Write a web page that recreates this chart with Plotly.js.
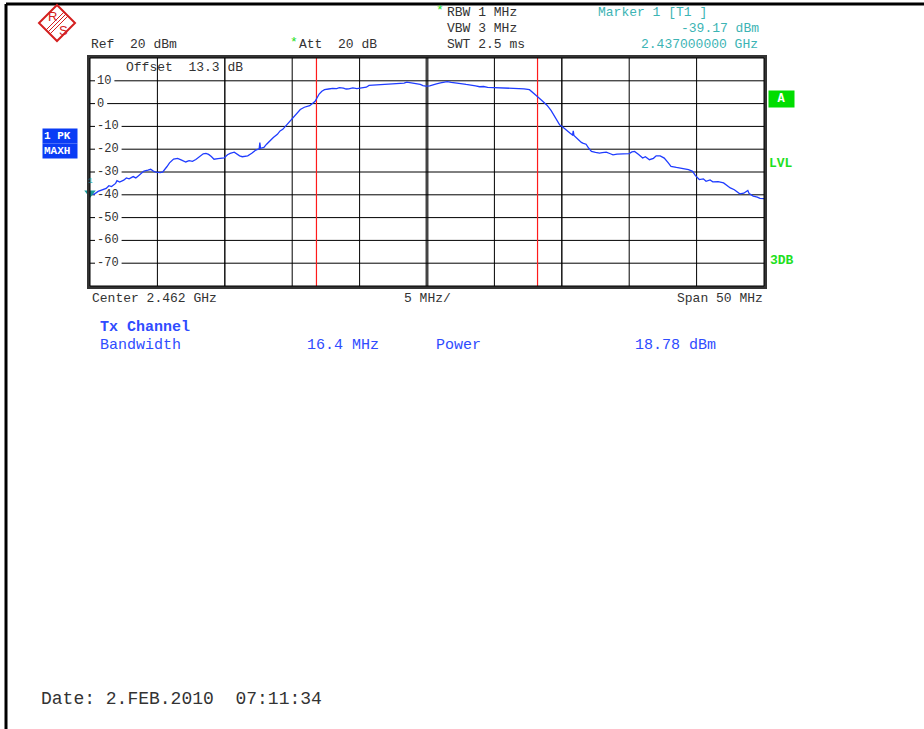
<!DOCTYPE html>
<html>
<head>
<meta charset="utf-8">
<script src="https://cdn.plot.ly/plotly-3.0.1.min.js"></script>
<style>html,body{margin:0;padding:0;background:#fff;}#chart{width:924px;height:729px;}</style>
</head>
<body>
<div id="chart"></div>
<script>
// ---- Data ----
const centerMHz = 2462;
const spanMHz = 50;
const refLevel = 20;
const dbPerDiv = 10;
const bandwidthMHz = 16.4;
const channelPower = "18.78 dBm";
const markerFreqMHz = [2437.0];
const markerLevel = [-39.17];
const yTickValues = [10, 0, -10, -20, -30, -40, -50, -60, -70];

const freqMHz = [
 2437.0,2437.3,2437.6,2437.9,2438.2,2438.4,2438.6,2438.9,2439.0,2439.2,
 2439.5,2439.7,2439.9,2440.2,2440.4,2440.6,2440.8,2441.0,2441.3,2441.5,
 2441.7,2441.9,2442.2,2442.4,2442.7,2442.9,2443.2,2443.5,2443.8,2444.1,
 2444.35,2444.6,2444.85,2445.1,2445.4,2445.6,2445.8,2446.0,2446.2,2446.5,
 2446.7,2446.95,2447.2,2447.4,2447.7,2447.9,2448.1,2448.3,2448.5,2448.7,
 2449.0,2449.3,2449.55,2449.6,2449.65,2449.9,2450.1,2450.3,2450.6,2450.9,
 2451.1,2451.3,2451.6,2452.0,2452.3,2452.6,2452.9,2453.3,2453.7,2453.85,
 2454.0,2454.2,2454.4,2454.7,2455.0,2455.3,2455.5,2455.8,2456.0,2456.2,
 2456.5,2456.8,2457.1,2457.5,2457.7,2458.0,2458.3,2458.7,2459.0,2459.3,
 2459.7,2460.0,2460.3,2460.5,2460.8,2461.2,2461.5,2461.7,2461.9,2462.2,
 2462.4,2462.7,2463.0,2463.2,2463.5,2463.8,2464.2,2464.5,2464.9,2465.2,
 2465.6,2465.9,2466.2,2466.5,2466.9,2467.2,2467.5,2467.9,2468.2,2468.5,
 2468.9,2469.2,2469.6,2469.85,2470.1,2470.5,2470.9,2471.2,2471.5,2471.85,
 2472.0,2472.3,2472.6,2472.8,2472.85,2472.9,2473.1,2473.45,2473.6,2473.8,
 2474.0,2474.2,2474.5,2474.8,2475.0,2475.3,2475.6,2475.8,2476.1,2476.4,
 2476.7,2477.0,2477.2,2477.4,2477.7,2478.0,2478.2,2478.5,2478.8,2479.0,
 2479.3,2479.6,2479.9,2480.1,2480.5,2481.0,2481.4,2481.7,2481.9,2482.2,
 2482.5,2482.7,2483.0,2483.2,2483.6,2484.0,2484.2,2484.5,2484.8,2485.0,
 2485.2,2485.5,2485.8,2485.9,2486.2,2486.5,2486.7,2487.0
];
const levelDbm = [
 -39.2,-39.8,-38.5,-37.8,-37.2,-36.0,-36.4,-35.0,-33.8,-34.4,
 -33.6,-32.6,-33.0,-32.0,-32.6,-31.6,-30.8,-29.6,-29.2,-28.8,
 -29.6,-30.1,-30.3,-30.0,-27.7,-26.0,-24.3,-24.0,-24.8,-25.6,
 -25.0,-25.3,-24.5,-23.3,-22.0,-21.8,-22.3,-23.2,-24.4,-24.1,
 -24.0,-23.8,-22.4,-21.8,-21.3,-22.2,-22.9,-23.3,-23.2,-22.9,
 -21.8,-20.4,-19.8,-17.1,-19.6,-19.2,-17.8,-16.5,-14.9,-13.5,
 -12.0,-11.3,-9.3,-6.4,-4.6,-2.6,-1.6,-0.9,1.0,2.5,
 4.2,5.4,6.1,6.4,6.7,6.6,7.0,6.8,6.4,6.5,
 6.9,6.6,7.0,7.2,8.0,8.1,8.0,8.4,8.5,8.6,
 8.8,8.8,9.0,9.4,9.1,8.8,8.4,7.9,7.7,7.8,
 8.0,8.6,9.1,9.4,9.6,9.3,9.1,8.8,8.4,8.2,
 7.8,7.4,7.5,7.1,7.0,7.1,6.8,6.8,6.6,6.8,
 6.5,6.5,6.1,5.0,3.6,1.5,-0.7,-3.0,-5.8,-9.4,
 -9.9,-11.6,-12.9,-13.8,-12.0,-14.0,-15.2,-17.0,-17.4,-17.8,
 -19.6,-21.0,-21.4,-21.7,-21.5,-21.3,-22.0,-22.5,-22.2,-22.2,
 -22.0,-21.9,-21.2,-21.0,-22.3,-23.9,-23.3,-24.6,-24.0,-22.9,
 -22.9,-23.9,-26.0,-27.5,-28.0,-28.6,-29.0,-29.7,-31.5,-33.3,
 -33.0,-34.1,-33.5,-34.3,-34.2,-34.8,-35.8,-37.0,-37.8,-38.6,
 -39.6,-39.3,-38.1,-39.5,-40.6,-41.0,-41.6,-41.7
];

// ---- Geometry helpers (pixel -> paper) ----
const W = 924, H = 729;
const M = {l: 90, r: 160, t: 58, b: 443};
const PW = W - M.l - M.r, PH = H - M.t - M.b;
const px = x => (x - M.l) / PW;
const py = y => (H - M.b - y) / PH;

const xLo = centerMHz - spanMHz / 2, xHi = centerMHz + spanMHz / 2;
const yTop = refLevel, yBot = refLevel - 10 * dbPerDiv;
const chLo = centerMHz - bandwidthMHz / 2, chHi = centerMHz + bandwidthMHz / 2;

const MONO = '"Liberation Mono", "Courier New", monospace';
const GREY = '#333333';
const TEAL = '#3cb4b4';
const BLUE = '#2f4cff';
const GREEN = '#1ee01e';

function txt(x, y, text, opts) {
  opts = opts || {};
  return Object.assign({
    xref: 'paper', yref: 'paper', x: px(x), y: py(y), text: text, showarrow: false,
    xanchor: 'left', yanchor: 'middle',
    font: {family: MONO, size: 13, color: GREY}, borderpad: 0
  }, opts);
}
const blueFont = {family: MONO, size: 15, color: BLUE};

const annotations = [
  txt(90, 45, 'Ref  20 dBm'),
  txt(289, 43, '*', {font: {family: MONO, size: 13, color: GREEN}}),
  txt(298, 45, 'Att  20 dB'),
  txt(435, 11, '*', {font: {family: MONO, size: 13, color: GREEN}}),
  txt(446, 12, 'RBW 1 MHz'),
  txt(446, 29, 'VBW 3 MHz'),
  txt(446, 45, 'SWT 2.5 ms'),
  txt(597, 12, 'Marker 1 [T1 ]', {font: {family: MONO, size: 13, color: TEAL}}),
  txt(760, 29, markerLevel[0].toFixed(2) + ' dBm', {xanchor: 'right', font: {family: MONO, size: 13, color: TEAL}}),
  txt(759, 45, (markerFreqMHz[0] / 1000).toFixed(9) + ' GHz', {xanchor: 'right', font: {family: MONO, size: 13, color: TEAL}}),
  txt(125, 67, 'Offset  13.3 dB'),
  txt(91, 298, 'Center ' + (centerMHz / 1000).toFixed(3) + ' GHz'),
  txt(427, 298, (spanMHz / 10) + ' MHz/', {xanchor: 'center'}),
  txt(764, 298, 'Span ' + spanMHz + ' MHz', {xanchor: 'right'}),
  txt(99, 327, '<b>Tx Channel</b>', {font: blueFont}),
  txt(99, 345, 'Bandwidth', {font: blueFont}),
  txt(306, 345, bandwidthMHz + ' MHz', {font: blueFont}),
  txt(435, 345, 'Power', {font: blueFont}),
  txt(717, 345, channelPower, {xanchor: 'right', font: blueFont}),
  txt(40, 699, 'Date: 2.FEB.2010  07:11:34', {font: {family: MONO, size: 18, color: GREY}}),
  // left blue boxes
  txt(42, 136, '<b>1 PK</b>', {bgcolor: '#0a3cf5', borderpad: 1, width: 32, align: 'left', font: {family: MONO, size: 11, color: '#ffffff'}}),
  txt(42, 151, '<b>MAXH</b>', {bgcolor: '#0a3cf5', borderpad: 1, width: 32, align: 'left', font: {family: MONO, size: 11, color: '#ffffff'}}),
  // right green labels
  txt(768, 99, '<b>A</b>', {bgcolor: '#00dd00', borderpad: 1, width: 23, align: 'center', font: {family: MONO, size: 12, color: '#ffffff'}}),
  txt(768, 163, '<b>LVL</b>', {font: {family: MONO, size: 13, color: GREEN}}),
  txt(769, 260, '<b>3DB</b>', {font: {family: MONO, size: 13, color: GREEN}}),
  // R&S letters
  txt(52, 16, 'R', {xanchor: 'center', font: {family: '"Liberation Sans", Arial', size: 13, color: '#d42020'}}),
  txt(63, 30, 'S', {xanchor: 'center', font: {family: '"Liberation Sans", Arial', size: 13, color: '#d42020'}}),
  // marker number
  txt(90, 180, '1', {xanchor: 'center', font: {family: MONO, size: 8, color: '#1a9a9a'}})
];

const shapes = [
  // page frame
  {type: 'line', xref: 'paper', yref: 'paper', x0: px(6), x1: px(924), y0: py(4), y1: py(4), line: {color: '#000', width: 3}},
  {type: 'line', xref: 'paper', yref: 'paper', x0: px(6), x1: px(6), y0: py(4), y1: py(729), line: {color: '#000', width: 3}},
  // plot frame (double line)
  {type: 'rect', xref: 'paper', yref: 'paper', x0: px(88.5), x1: px(765.5), y0: py(287.5), y1: py(56.5), line: {color: '#333', width: 3}},
  {type: 'rect', xref: 'paper', yref: 'paper', x0: 0, x1: 1, y0: 0, y1: 1, line: {color: '#000', width: 1}},
  // R&S logo diamond
  {type: 'path', xref: 'paper', yref: 'paper',
   path: 'M ' + px(57) + ' ' + py(5) + ' L ' + px(75) + ' ' + py(23) + ' L ' + px(57) + ' ' + py(41) + ' L ' + px(39) + ' ' + py(23) + ' Z',
   line: {color: '#d42020', width: 2}},
  {type: 'line', xref: 'paper', yref: 'paper', x0: px(64), y0: py(12), x1: px(46), y1: py(30), line: {color: '#d42020', width: 1}},
  {type: 'line', xref: 'paper', yref: 'paper', x0: px(66), y0: py(14), x1: px(48), y1: py(32), line: {color: '#d42020', width: 1}},
  {type: 'line', xref: 'paper', yref: 'paper', x0: px(68), y0: py(16), x1: px(50), y1: py(34), line: {color: '#d42020', width: 1}}
];

// vertical grid (one per division) drawn below the traces
for (let k = 1; k < 10; k++) {
  const f = xLo + k * spanMHz / 10;
  let col = '#000', wd = 1;
  if (k === 5) { col = '#444'; wd = 3; }
  else if (k === 2 || k === 7) { col = '#222'; wd = 1.6; }
  shapes.push({type: 'line', xref: 'x', yref: 'paper', x0: f, x1: f, y0: 0, y1: 1, layer: 'below', line: {color: col, width: wd}});
}
// horizontal grid with a gap for each level label
yTickValues.forEach(v => {
  const w = String(v).length * 7.2 + 4;
  shapes.push({type: 'line', xref: 'paper', yref: 'y', x0: 0, x1: px(95), y0: v, y1: v, layer: 'below', line: {color: '#000', width: 1}});
  shapes.push({type: 'line', xref: 'paper', yref: 'y', x0: px(96 + w), x1: 1, y0: v, y1: v, layer: 'below', line: {color: '#000', width: 1}});
  annotations.push({xref: 'paper', yref: 'y', x: px(96), y: v, text: String(v), showarrow: false,
    xanchor: 'left', yanchor: 'middle', borderpad: 0, font: {family: MONO, size: 12, color: GREY}});
});

const traces = [
  {x: [chLo, chLo], y: [yBot, yTop], mode: 'lines', line: {color: '#ff1a1a', width: 1.2}, hoverinfo: 'skip'},
  {x: [chHi, chHi], y: [yBot, yTop], mode: 'lines', line: {color: '#ff1a1a', width: 1.2}, hoverinfo: 'skip'},
  {x: freqMHz, y: levelDbm, mode: 'lines', line: {color: '#1f3cff', width: 1.3}},
  {x: markerFreqMHz, y: markerLevel, mode: 'markers', cliponaxis: false,
   marker: {symbol: 'triangle-down', size: 10, color: '#1a9a9a'}}
];

const layout = {
  width: W, height: H,
  margin: M,
  paper_bgcolor: '#ffffff', plot_bgcolor: '#ffffff',
  showlegend: false,
  xaxis: {range: [xLo, xHi], showgrid: false, zeroline: false, showticklabels: false, ticks: '', showline: false, fixedrange: true},
  yaxis: {range: [yBot, yTop], showgrid: false, zeroline: false, showticklabels: false, ticks: '', showline: false, fixedrange: true},
  annotations: annotations,
  shapes: shapes,
  font: {family: MONO, color: GREY}
};

Plotly.newPlot('chart', traces, layout, {displayModeBar: false, staticPlot: true});
</script>
</body>
</html>
